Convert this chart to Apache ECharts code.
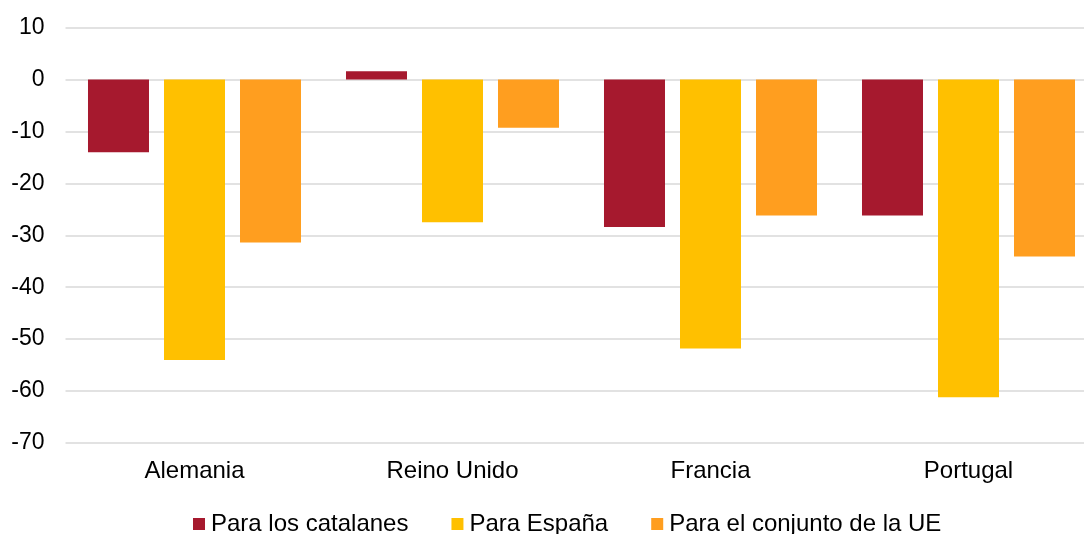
<!DOCTYPE html>
<html>
<head>
<meta charset="utf-8">
<script src="https://cdn.jsdelivr.net/npm/echarts@6/dist/echarts.min.js"></script>
<style>
  html, body { margin: 0; padding: 0; background: #fff; overflow: hidden; }
  /* the plot runs past the right edge of the window */
  #chart { width: 1098px; height: 534px; }
</style>
</head>
<body>
<div id="chart"></div>
<script>
// Countries on the x axis
const categories = ['Alemania', 'Reino Unido', 'Francia', 'Portugal'];

// Values per series
const catalanes = [-14.0, 1.6, -28.4, -26.2];
const espana = [-54.0, -27.5, -51.8, -61.2];
const conjuntoUE = [-31.4, -9.3, -26.2, -34.1];

// Series names
const seriesNames = ['Para los catalanes', 'Para España', 'Para el conjunto de la UE'];

// Y axis range and step
const yMin = -70;
const yMax = 10;
const yStep = 10;

const font = 'Liberation Sans, Arial, sans-serif';
const colors = ['#A6192E', '#FFC000', '#FF9E1F'];

const chart = echarts.init(document.getElementById('chart'), null, { renderer: 'canvas' });

const barStyle = (name, data, color) => ({
  name: name,
  type: 'bar',
  data: data,
  barWidth: 61,
  barGap: '24.6%',
  itemStyle: { color: color },
  emphasis: { disabled: true }
});

chart.setOption({
  animation: false,
  textStyle: { fontFamily: font },
  color: colors,
  grid: {
    left: 65.5,
    right: 0.5,
    top: 27.5,
    bottom: 91,
    containLabel: false
  },
  xAxis: {
    type: 'category',
    data: categories,
    position: 'bottom',
    axisLine: { show: false },
    axisTick: { show: false },
    axisLabel: {
      color: '#000',
      fontSize: 24,
      fontFamily: font,
      margin: 16
    }
  },
  yAxis: {
    type: 'value',
    min: yMin,
    max: yMax,
    interval: yStep,
    axisLine: { show: false },
    axisTick: { show: false },
    axisLabel: {
      color: '#000',
      fontSize: 23,
      fontFamily: font,
      margin: 21
    },
    splitLine: { lineStyle: { color: '#D9D9D9', width: 1.5 } }
  },
  legend: {
    data: seriesNames,
    left: 188,
    top: 507,
    itemWidth: 12,
    itemHeight: 12,
    itemGap: 43,
    icon: 'rect',
    textStyle: { color: '#000', fontSize: 24, fontFamily: font, padding: [0, 0, 0, 1] }
  },
  series: [
    barStyle(seriesNames[0], catalanes, colors[0]),
    barStyle(seriesNames[1], espana, colors[1]),
    barStyle(seriesNames[2], conjuntoUE, colors[2])
  ]
});
</script>
</body>
</html>
